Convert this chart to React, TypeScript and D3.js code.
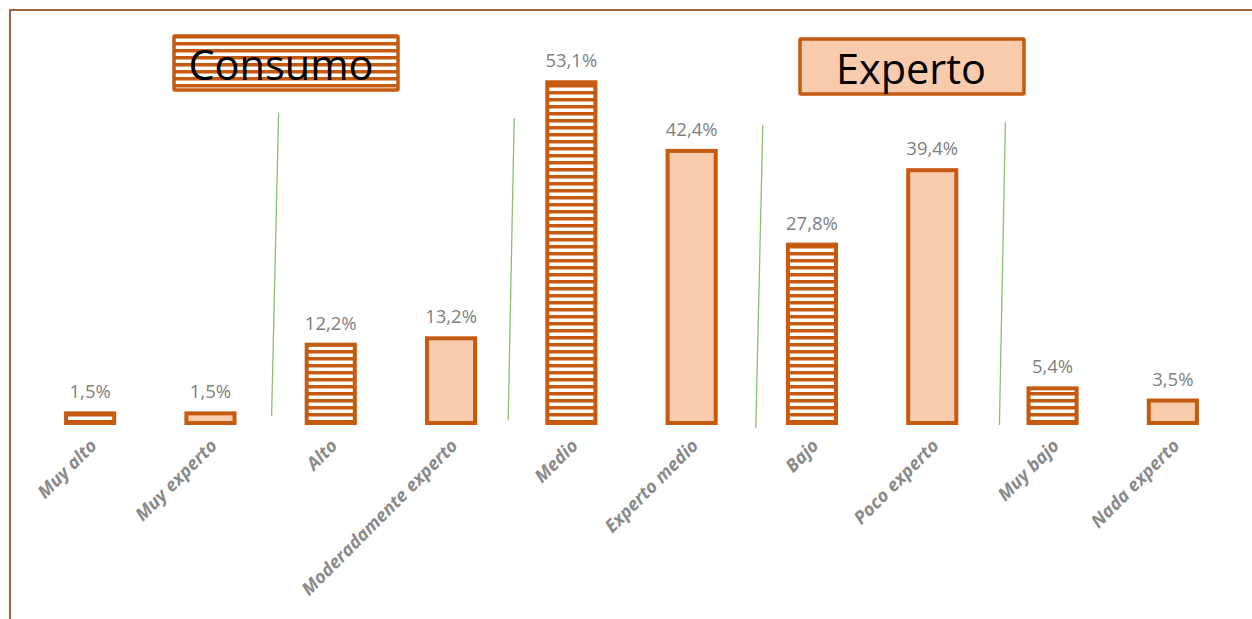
import React from "react";
import * as d3 from "d3";

const categories = [
  "Muy alto", "Muy experto", "Alto", "Moderadamente experto", "Medio",
  "Experto medio", "Bajo", "Poco experto", "Muy bajo", "Nada experto",
];
const values = [1.5, 1.5, 12.2, 13.2, 53.1, 42.4, 27.8, 39.4, 5.4, 3.5];
const groups = ["Consumo", "Experto", "Consumo", "Experto", "Consumo", "Experto", "Consumo", "Experto", "Consumo", "Experto"];
const valueLabels = ["1,5%", "1,5%", "12,2%", "13,2%", "53,1%", "42,4%", "27,8%", "39,4%", "5,4%", "3,5%"];
// separator lines between pairs
const separators = [
  { after: 1, dTop: 8, dBot: 1, top: 113, bot: 416 },
  { after: 3, dTop: 3, dBot: -3, top: 118, bot: 420 },
  { after: 5, dTop: 11, dBot: 4, top: 125, bot: 428 },
  { after: 7, dTop: 13, dBot: 7, top: 122, bot: 425 },
];

const W = 1252, H = 619;
const ORANGE = "#C55A11";
const LIGHT = "#F8CBAD";
const FONT = "'Open Sans', 'Noto Sans', sans-serif";

export default function App() {
  const x = d3.scaleBand<string>().domain(categories).range([30, 1233]).paddingInner(0.6).paddingOuter(0.3);
  const y = d3.scaleLinear().domain([0, 60]).range([423, 38]);

  return (
    <svg width={W} height={H} style={{ position: "absolute", left: 0, top: 0, background: "#fff" }}>
      <defs>
        <pattern id="stripes" patternUnits="userSpaceOnUse" width={20} height={7}>
          <rect x={0} y={0} width={20} height={7} fill="#fff" />
          <rect x={0} y={0} width={20} height={3.5} fill={ORANGE} />
        </pattern>
      </defs>
      <rect x={10} y={10} width={1400} height={800} fill="none" stroke="#A0643C" strokeWidth={2} />

      {separators.map((s, i) => {
        const b = (x(categories[s.after])! + x.bandwidth() + x(categories[s.after + 1])!) / 2;
        return <line key={i} x1={b + s.dTop} y1={s.top} x2={b + s.dBot} y2={s.bot} stroke="#8DBF72" strokeWidth={1.3} />;
      })}

      {categories.map((c, i) => {
        const x0 = x(c)!;
        const cx = x0 + x.bandwidth() / 2;
        const top = y(values[i]);
        const striped = groups[i] === "Consumo";
        return (
          <g key={c}>
            <rect x={x0} y={top} width={x.bandwidth()} height={y(0) - top}
              fill={striped ? "url(#stripes)" : LIGHT} stroke={ORANGE} strokeWidth={4} />
            <text x={cx} y={top - 15} textAnchor="middle" fontFamily={FONT} fontSize={18.5} fill="#7F7F7F">{valueLabels[i]}</text>
            <text transform={`translate(${cx - 3},${y(0) + 13}) rotate(-45)`} textAnchor="end"
              fontFamily={FONT} fontSize={18} fontWeight={700} fontStyle="italic" fill="#8A8A8A" dominantBaseline="hanging">{c}</text>
          </g>
        );
      })}

      <g>
        <rect x={174} y={36} width={224} height={54} fill="url(#stripes)" stroke={ORANGE} strokeWidth={3.5} rx={1} />
        <text x={281} y={64} textAnchor="middle" dominantBaseline="central" fontFamily={FONT} fontSize={41.5} fill="#000">Consumo</text>
      </g>
      <g>
        <rect x={800} y={39} width={224} height={55} fill={LIGHT} stroke={ORANGE} strokeWidth={3.5} rx={1} />
        <text x={911} y={68} textAnchor="middle" dominantBaseline="central" fontFamily={FONT} fontSize={41.5} fill="#000">Experto</text>
      </g>
    </svg>
  );
}
